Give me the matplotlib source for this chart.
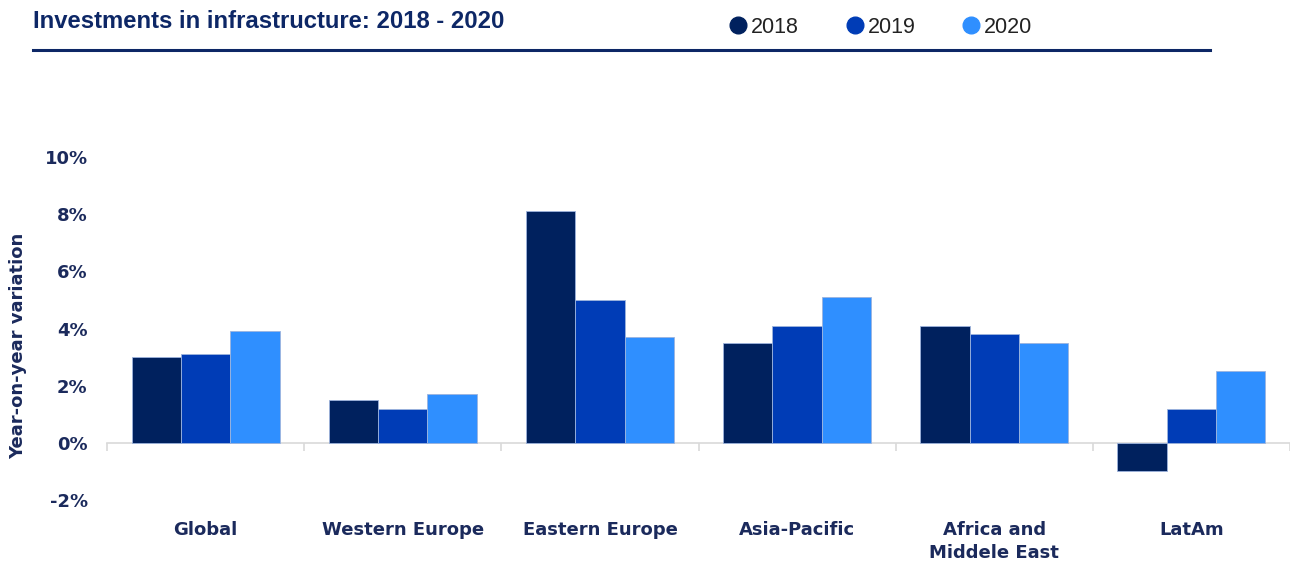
import numpy as np
import matplotlib.pyplot as plt
from matplotlib.lines import Line2D
from matplotlib.transforms import blended_transform_factory

regions = ["Global", "Western Europe", "Eastern Europe", "Asia-Pacific",
           "Africa and\nMiddele East", "LatAm"]
years = ["2018", "2019", "2020"]
v2018 = [3.0, 1.5, 8.1, 3.5, 4.1, -1.0]
v2019 = [3.1, 1.2, 5.0, 4.1, 3.8, 1.2]
v2020 = [3.9, 1.7, 3.7, 5.1, 3.5, 2.5]
yticks = [-2, 0, 2, 4, 6, 8, 10]

colors = ["#00215e", "#003cb6", "#2f8fff"]
navy = "#1b2a5c"
label_font = "DejaVu Sans"

fig = plt.figure(figsize=(12.9, 5.64), dpi=100)
ax = fig.add_axes([0.083, 0.1135, 0.917, 0.608])

x = np.arange(len(regions))
w = 0.25
for i, vals in enumerate([v2018, v2019, v2020]):
    ax.bar(x + (i - 1) * w, vals, w, color=colors[i], edgecolor="#9db4dd",
           linewidth=0.6, label=years[i], zorder=3)

ax.set_xlim(-0.5, len(regions) - 0.5)
ax.set_ylim(-2, 10)

# axis line at zero with small separators between groups
for s in ["top", "right", "left"]:
    ax.spines[s].set_visible(False)
ax.spines["bottom"].set_position(("data", 0))
ax.spines["bottom"].set_color("#d9d9d9")
ax.spines["bottom"].set_linewidth(1.2)
ax.set_xticks(x)
ax.set_xticklabels([])
ax.tick_params(axis="x", which="major", length=0)
ax.set_xticks(np.arange(len(regions) + 1) - 0.5, minor=True)
ax.tick_params(axis="x", which="minor", length=6, color="#d9d9d9", width=1.2)

trans = blended_transform_factory(ax.transData, ax.transAxes)
for xi, name in zip(x, regions):
    ax.text(xi, -0.06, name, transform=trans, ha="center", va="top",
            fontsize=13, fontweight="bold", color=navy, family=label_font,
            linespacing=1.4)

ax.set_yticks(yticks)
ax.set_yticklabels([f"{t}%" for t in yticks], fontsize=13, fontweight="bold",
                   color=navy, family=label_font)
ax.tick_params(axis="y", length=0, pad=14)
ax.set_ylabel("Year-on-year variation", fontsize=13, fontweight="bold",
              color=navy, family=label_font)
ax.yaxis.set_label_coords(-0.068, 0.45)

# header: title, rule and legend
fig.text(0.0256, 0.962, "Investments in infrastructure: 2018 - 2020",
         fontsize=17.2, fontweight="bold", color="#0d2766",
         family="Liberation Sans", va="center")
fig.add_artist(Line2D([33 / 1290, 1210 / 1290], [1 - 50 / 564] * 2,
                      color="#0d2766", linewidth=2.2))

handles = [Line2D([], [], marker="o", linestyle="", markersize=12,
                  markerfacecolor=c, markeredgecolor=c) for c in colors]
fig.legend(handles, years, loc="center left", bbox_to_anchor=(0.547, 0.952),
           ncol=3, frameon=False, handletextpad=0.0, columnspacing=2.0,
           handlelength=1.2,
           prop={"family": "Liberation Sans", "size": 15.5}, labelcolor="#222222")

fig.savefig("out.png", dpi=100)
